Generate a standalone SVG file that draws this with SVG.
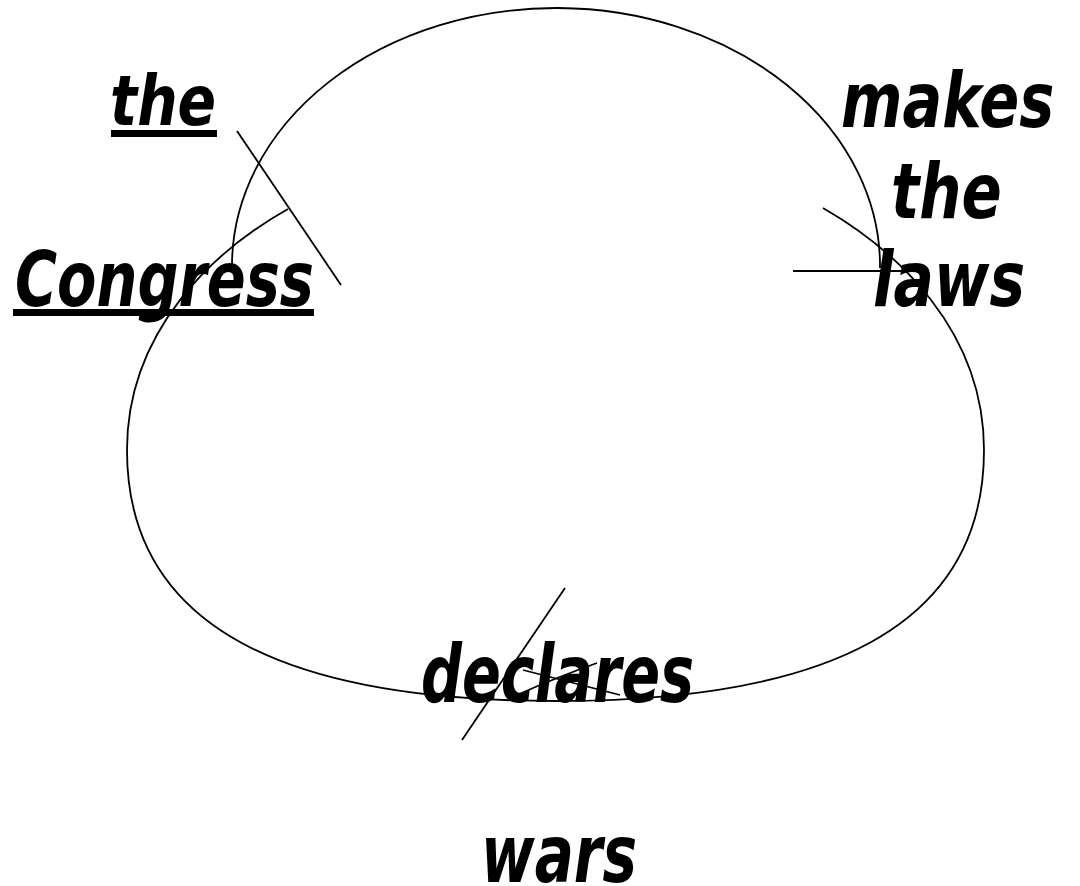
<svg xmlns="http://www.w3.org/2000/svg" width="1080" height="886" viewBox="0 0 1080 886">
<style>
.t{font-family:"DejaVu Sans","Liberation Sans",sans-serif;font-style:oblique;font-weight:bold;fill:#000}
.c{fill:none;stroke:#000;stroke-width:1.8}
</style>
<rect width="1080" height="886" fill="#fff"/>
<g id="connectors">
<path class="c" d="M232,264 A324,258 0 0 1 880,268"/>
<path class="c" d="M288,209 C215,250 127,330 127,450 C127,630 290,701 556,701 C821,701 984,630 984,450 C984,330 896,250 823,208"/>
<line class="c" x1="237" y1="131" x2="341" y2="285"/>
<line class="c" x1="793" y1="271" x2="903" y2="271"/>
<line class="c" x1="565" y1="588" x2="462" y2="740"/>
<path class="c" d="M523,670 Q570,682 620,695"/>
<path class="c" d="M597,663 Q555,678 517,695"/>
</g>
<g id="node-congress">
<text class="t" transform="translate(110,125) scale(0.81,1)" font-size="70" textLength="131" lengthAdjust="spacingAndGlyphs">the</text>
<rect x="111" y="130" width="106" height="7"/>
<text class="t" transform="translate(15,306) scale(0.755,1)" font-size="76" textLength="396" lengthAdjust="spacingAndGlyphs">Congress</text>
<rect x="13" y="309" width="301" height="7"/>
</g>
<g id="node-laws">
<text class="t" transform="translate(841,127) scale(0.767,1)" font-size="76" textLength="278" lengthAdjust="spacingAndGlyphs">makes</text>
<text class="t" transform="translate(891,218) scale(0.78,1)" font-size="76" textLength="142" lengthAdjust="spacingAndGlyphs">the</text>
<text class="t" transform="translate(873,306) scale(0.788,1)" font-size="76" textLength="193" lengthAdjust="spacingAndGlyphs">laws</text>
</g>
<g id="node-wars">
<text class="t" transform="translate(421,702) scale(0.715,1)" font-size="80" textLength="382" lengthAdjust="spacingAndGlyphs">declares</text>
<text class="t" transform="translate(481,882) scale(0.726,1)" font-size="80" textLength="215" lengthAdjust="spacingAndGlyphs">wars</text>
</g>
</svg>
